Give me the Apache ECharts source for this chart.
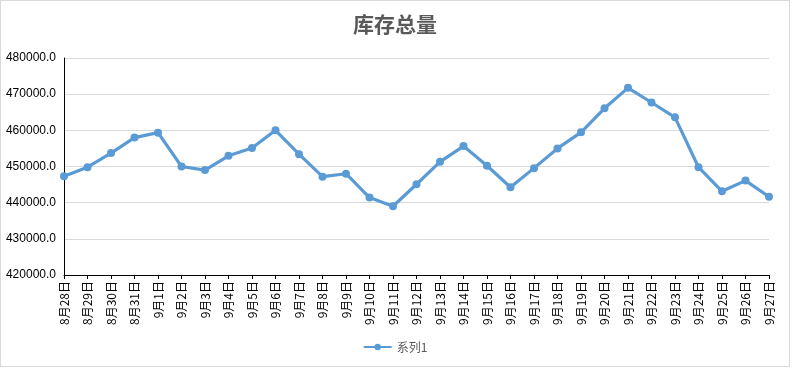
<!DOCTYPE html>
<html><head><meta charset="utf-8">
<script src="https://cdn.jsdelivr.net/npm/echarts@6/dist/echarts.min.js"></script>
<style>html,body{margin:0;padding:0;background:#fff}#c{width:790px;height:367px;border:1px solid #d9d9d9;box-sizing:border-box}</style>
</head><body><div id="c"></div>
<script>
const categories = ["8月28日","8月29日","8月30日","8月31日","9月1日","9月2日","9月3日","9月4日","9月5日","9月6日","9月7日","9月8日","9月9日","9月10日","9月11日","9月12日","9月13日","9月14日","9月15日","9月16日","9月17日","9月18日","9月19日","9月20日","9月21日","9月22日","9月23日","9月24日","9月25日","9月26日","9月27日"];
const values = [447300,449800,453700,458000,459350,450000,449000,452950,455100,460000,453400,447200,448000,441400,439000,445100,451300,455650,450200,444250,449550,455000,459450,466100,471750,467700,463600,449800,443150,446100,441650];
const seriesName = "系列1";
const titleText = "库存总量";
const chart = echarts.init(document.getElementById('c'));
chart.setOption({
  backgroundColor: '#fff',
  title: {text: titleText, left: 'center', top: 8, textStyle: {fontFamily: 'Noto Sans CJK SC', fontSize: 21, fontWeight: 'bold', color: '#595959'}},
  grid: {left: 63, right: 20, top: 57, bottom: 91, containLabel: false},
  legend: {bottom: 8, left: 'center', itemWidth: 28, itemHeight: 8, textStyle: {fontFamily: 'Noto Sans CJK SC', fontSize: 12, color: '#595959'}, data: [seriesName]},
  xAxis: {type: 'category', data: categories, boundaryGap: false,
    axisLine: {lineStyle: {color: '#000', width: 1}},
    axisTick: {show: true, length: 4, lineStyle: {color: '#000'}},
    axisLabel: {rotate: 90, interval: 0, fontSize: 12, color: '#000', fontFamily: 'Noto Sans CJK SC', margin: 6}},
  yAxis: {type: 'value', min: 420000, max: 480000, interval: 10000,
    axisLine: {show: true, lineStyle: {color: '#000'}},
    axisTick: {show: false},
    splitLine: {lineStyle: {color: '#d9d9d9'}},
    axisLabel: {formatter: v => v.toFixed(1), fontSize: 12, color: '#000', fontFamily: 'Liberation Sans', margin: 8}},
  series: [{name: seriesName, type: 'line', data: values, symbol: 'circle', symbolSize: 8,
    lineStyle: {color: '#5b9bd5', width: 3.2}, itemStyle: {color: '#5b9bd5'}}]
});
</script></body></html>
